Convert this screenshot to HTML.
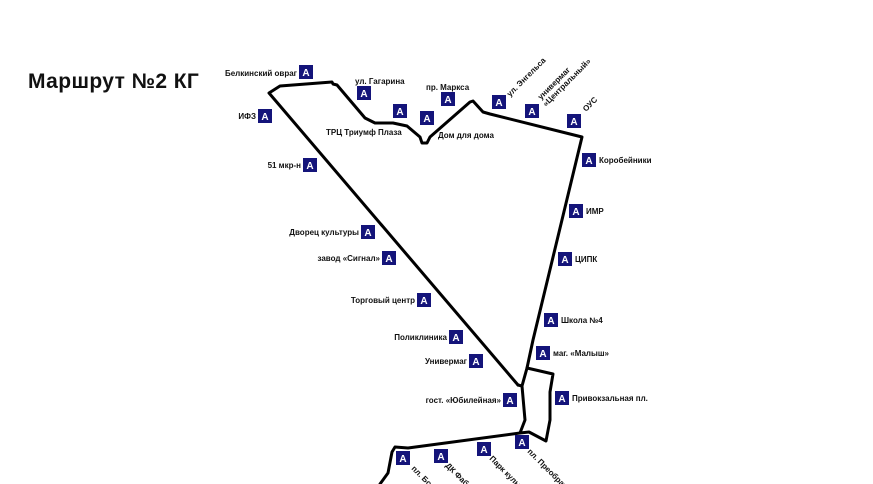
<!DOCTYPE html>
<html><head><meta charset="utf-8"><style>
html,body{margin:0;padding:0;background:#fff;width:873px;height:484px;overflow:hidden}
svg{display:block}
text{font-family:"Liberation Sans","DejaVu Sans",sans-serif;font-weight:bold;fill:#111;font-size:8px}
.a{fill:#fff;font-size:10px;text-anchor:middle}
</style></head><body>
<svg width="873" height="484" viewBox="0 0 873 484" xmlns="http://www.w3.org/2000/svg">
<defs><g id="A"><rect x="-7" y="-7" width="14" height="14" fill="#14147a"/><text class="a" x="0" y="4">A</text></g></defs>
<text x="28" y="88" style="font-size:21px;letter-spacing:0.4px">Маршрут №2 КГ</text>
<g fill="none" stroke="#000" stroke-width="3" stroke-linejoin="round" stroke-linecap="round">
<polyline points="518,385 269,93 280,86 332,82 333,84 337,85 365,118 375,123 393,123 407,126 420,137 422,143 427,143 430,137 470,102 473,101 483,112 490,114 582,137 533,340 527,368"/>
<polyline points="527,368 553,374 550,392 550,420 546,441 529,432 520,433 408,448 395,447 392,452 388,473 380,484"/>
<polyline points="518,385 522,386 527,368"/>
<polyline points="522,386 525,420 520,433"/>
</g>
<use href="#A" x="306" y="72"/><text x="297" y="76" text-anchor="end">Белкинский овраг</text>
<use href="#A" x="265" y="116"/><text x="256" y="119" text-anchor="end">ИФЗ</text>
<use href="#A" x="364" y="93"/><text x="355" y="84">ул. Гагарина</text>
<use href="#A" x="400" y="111"/>
<use href="#A" x="427" y="118"/>
<text x="326" y="135">ТРЦ Триумф Плаза</text>
<use href="#A" x="448" y="99"/><text x="426" y="90">пр. Маркса</text>
<text x="438" y="138">Дом для дома</text>
<use href="#A" x="499" y="102"/><text transform="translate(510,97) rotate(-45)">ул. Энгельса</text>
<use href="#A" x="532" y="111"/><text transform="translate(541,100) rotate(-45)">универмаг</text><text transform="translate(546,107) rotate(-45)">«Центральный»</text>
<use href="#A" x="574" y="121"/><text transform="translate(586,112) rotate(-45)">ОУС</text>
<use href="#A" x="589" y="160"/><text x="599" y="163">Коробейники</text>
<use href="#A" x="576" y="211"/><text x="586" y="214">ИМР</text>
<use href="#A" x="565" y="259"/><text x="575" y="262">ЦИПК</text>
<use href="#A" x="551" y="320"/><text x="561" y="323">Школа №4</text>
<use href="#A" x="543" y="353"/><text x="553" y="356">маг. «Малыш»</text>
<use href="#A" x="562" y="398"/><text x="572" y="401">Привокзальная пл.</text>
<use href="#A" x="510" y="400"/><text x="501" y="403" text-anchor="end">гост. «Юбилейная»</text>
<use href="#A" x="476" y="361"/><text x="467" y="364" text-anchor="end">Универмаг</text>
<use href="#A" x="456" y="337"/><text x="447" y="340" text-anchor="end">Поликлиника</text>
<use href="#A" x="424" y="300"/><text x="415" y="303" text-anchor="end">Торговый центр</text>
<use href="#A" x="389" y="258"/><text x="380" y="261" text-anchor="end">завод «Сигнал»</text>
<use href="#A" x="368" y="232"/><text x="359" y="235" text-anchor="end">Дворец культуры</text>
<use href="#A" x="310" y="165"/><text x="301" y="168" text-anchor="end">51 мкр-н</text>
<use href="#A" x="403" y="458"/><text transform="translate(411,469) rotate(45)">пл. Борцов</text>
<use href="#A" x="441" y="456"/><text transform="translate(445,466) rotate(45)">ДК Фабрики</text>
<use href="#A" x="484" y="449"/><text transform="translate(489,459) rotate(45)">Парк культуры</text>
<use href="#A" x="522" y="442"/><text transform="translate(527,452) rotate(45)">пл. Преображения</text>
</svg>
</body></html>
